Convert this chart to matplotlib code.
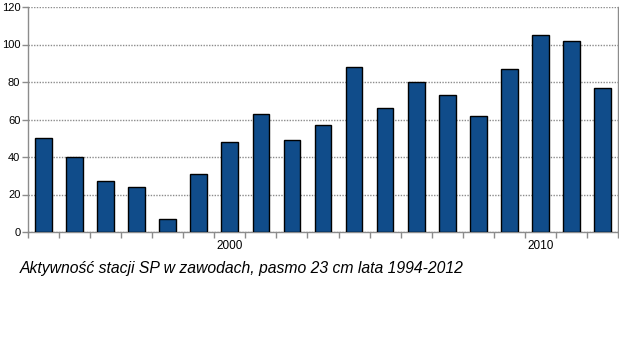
import matplotlib
matplotlib.use("Agg")
import matplotlib.pyplot as plt
import numpy as np

years = list(range(1994, 2013))
values = [50, 40, 27, 24, 7, 31, 48, 63, 49, 57, 88, 66, 80, 73, 62, 87, 105, 102, 77]
yticks = [0, 20, 40, 60, 80, 100, 120]
xlabels_shown = {2000: "2000", 2010: "2010"}
caption = "Aktywność stacji SP w zawodach, pasmo 23 cm lata 1994-2012"

plt.rcParams['font.family'] = ['Liberation Sans', 'DejaVu Sans']

fig = plt.figure(figsize=(6.19, 3.62), dpi=100)
ax = fig.add_axes([28/619, 1-232/362, 590/619, 225/362])

x = np.arange(len(years))
ax.bar(x, values, width=0.54, color='#104c8a', edgecolor='black', linewidth=1.0, zorder=3)

grid_ls = (0, (1, 1))
grid_c = '#8c8c8c'
ax.set_ylim(0, 120)
ax.set_xlim(-0.5, len(years) - 0.5)
ax.set_yticks(yticks)
ax.set_yticklabels([str(v) for v in yticks], fontsize=8)
ax.yaxis.grid(True, linestyle=grid_ls, color=grid_c, linewidth=1)
ax.set_axisbelow(True)

major_pos = [years.index(y) for y in xlabels_shown]
ax.set_xticks(major_pos)
ax.set_xticklabels(list(xlabels_shown.values()), fontsize=8.5)
ax.set_xticks(np.arange(-0.5, len(years) + 0.5, 1), minor=True)
ax.tick_params(axis='x', which='major', length=0, pad=6)
ax.tick_params(axis='x', which='minor', length=4, color=grid_c, width=1)
ax.tick_params(axis='y', length=4.5, color=grid_c, width=1, pad=1)
for t in ax.xaxis.get_minorticklines() + ax.yaxis.get_majorticklines():
    t.set_linestyle(grid_ls)

for side in ['left', 'bottom', 'right']:
    ax.spines[side].set_linestyle(grid_ls)
    ax.spines[side].set_color(grid_c)
    ax.spines[side].set_linewidth(1)
ax.spines['top'].set_visible(False)

fig.text(20/619, 1-268/362, caption, fontsize=11.3, style='italic', va='center', ha='left')

fig.savefig('out.png', dpi=100)
